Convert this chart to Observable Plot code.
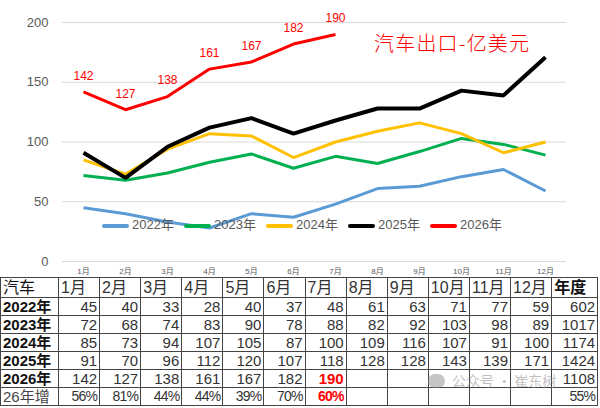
<!DOCTYPE html>
<html><head><meta charset="utf-8">
<script src="https://cdn.jsdelivr.net/npm/d3@7"></script>
<script src="https://cdn.jsdelivr.net/npm/@observablehq/plot@0.6"></script>
<style>
body{margin:0;background:#fff;}
#wrap{position:relative;width:600px;height:408px;overflow:hidden;font-family:"Liberation Sans","Noto Sans CJK SC",sans-serif;}
#chart{position:absolute;left:0;top:0;}
#title{position:absolute;left:374px;top:28px;font-size:20px;color:#ff0000;font-family:"Noto Sans CJK SC",sans-serif;font-weight:300;white-space:nowrap;letter-spacing:1.2px;}
#legend{position:absolute;left:0;top:216px;height:18px;}
.li{position:absolute;top:0;height:18px;font-size:13px;color:#595959;white-space:nowrap;font-family:"Liberation Sans","Noto Sans CJK SC",sans-serif;}
.li span.sw{position:absolute;top:8px;left:0;width:27px;height:4px;border-radius:2px;}
.li span.tx{position:absolute;left:30px;top:0;line-height:18px;}
table{position:absolute;left:0;top:277px;border-collapse:collapse;table-layout:fixed;font-size:15px;color:#333;}
td{border:1px solid #444;padding:0 2px;height:17px;line-height:17px;white-space:nowrap;overflow:hidden;text-align:right;font-family:"Liberation Sans","Noto Sans CJK SC",sans-serif;}
tr.hd td{height:19px;line-height:19px;text-align:left;font-size:16px;}
td.rl{text-align:left;font-weight:bold;color:#111;}
td.pct{font-size:14px;letter-spacing:-0.8px;}
td.red{color:#ff0000;font-weight:bold;}
#wm{position:absolute;left:428px;top:370px;font-size:14px;color:rgba(140,140,140,0.55);white-space:nowrap;font-family:"Noto Sans CJK SC",sans-serif;}
#wm i{display:inline-block;width:17px;height:14px;border-radius:8px;background:rgba(140,140,140,0.5);vertical-align:-2px;margin-right:7px;}
</style></head>
<body>
<div id="wrap">
  <div id="chart"></div>
  <div id="title"></div>
  <div id="legend"></div>
  <table id="tbl"></table>
  <div id="wm"><i></i>公众号 · 崔东树</div>
</div>
<script>
const months = ["1月","2月","3月","4月","5月","6月","7月","8月","9月","10月","11月","12月"];
const years = ["2022年","2023年","2024年","2025年","2026年"];
const v2022 = [45,40,33,28,40,37,48,61,63,71,77,59];
const v2023 = [72,68,74,83,90,78,88,82,92,103,98,89];
const v2024 = [85,73,94,107,105,87,100,109,116,107,91,100];
const v2025 = [91,70,96,112,120,107,118,128,128,143,139,171];
const v2026 = [142,127,138,161,167,182,190];
const annual = [602,1017,1174,1424,1108];
const growth26 = ["56%","81%","44%","44%","39%","70%","60%"];
const growthAnnual = "55%";
const colors = ["#5B9BD5","#00B050","#FFC000","#000000","#FF0000"];
const widths = [3,3,3,4,3];
const titleText = "汽车出口-亿美元";
const cornerLabel = "汽车";
const annualLabel = "年度";
const growthLabel = "26年增";

const series = [v2022,v2023,v2024,v2025,v2026];
const rows = series.map((vals,i)=>vals.map((v,j)=>({year:years[i],month:months[j],value:v})));

const plot = Plot.plot({
  width:600, height:277,
  marginLeft:62, marginRight:34, marginTop:22, marginBottom:16,
  style:{fontFamily:"Liberation Sans, Noto Sans CJK SC, sans-serif", background:"transparent"},
  x:{type:"point", domain:months, padding:0.5, label:null},
  y:{domain:[0,200], label:null},
  marks:[
    Plot.ruleY([0,50,100,150,200],{stroke:"#d9d9d9",strokeWidth:1}),
    Plot.axisY({ticks:[0,50,100,150,200], tickSize:0, tickPadding:14, fontSize:13, fill:"#595959", label:null}),
    Plot.axisX({tickSize:0, tickPadding:7, fontSize:8, fill:"#595959", label:null}),
    ...rows.map((r,i)=>Plot.line(r,{x:"month",y:"value",stroke:colors[i],strokeWidth:widths[i],strokeLinejoin:"miter",strokeLinecap:"butt"})),
    Plot.text(rows[4],{x:"month",y:"value",text:d=>String(d.value),dy:-16,fill:"#ff0000",fontSize:12})
  ]
});
document.getElementById("chart").appendChild(plot);
document.getElementById("title").textContent = titleText;

const leg = document.getElementById("legend");
years.forEach((y,i)=>{
  const d = document.createElement("div");
  d.className="li";
  d.style.left = (102 + i*82) + "px";
  d.innerHTML = `<span class="sw" style="background:${colors[i]}"></span><span class="tx">${y}</span>`;
  leg.appendChild(d);
});

const tbl = document.getElementById("tbl");
const cg = document.createElement("colgroup");
cg.innerHTML = `<col style="width:58px">` + months.map(()=>`<col style="width:41.1px">`).join("") + `<col style="width:46px">`;
tbl.appendChild(cg);
let html = `<tr class="hd"><td style="font-weight:normal;color:#111">${cornerLabel}</td>` + months.map(m=>`<td>${m}</td>`).join("") + `<td style="font-weight:bold;color:#111">${annualLabel}</td></tr>`;
series.forEach((vals,i)=>{
  html += `<tr><td class="rl">${years[i]}</td>`;
  months.forEach((m,j)=>{
    const v = vals[j];
    const isRed = (i===4 && j===vals.length-1);
    html += `<td class="${isRed?'red':''}">${v===undefined?'':v}</td>`;
  });
  html += `<td>${annual[i]}</td></tr>`;
});
html += `<tr><td style="text-align:left;color:#444">${growthLabel}</td>`;
months.forEach((m,j)=>{
  const g = growth26[j];
  const isRed = j===growth26.length-1;
  html += `<td class="pct ${isRed?'red':''}">${g===undefined?'':g}</td>`;
});
html += `<td class="pct">${growthAnnual}</td></tr>`;
tbl.innerHTML += html;
</script>
</body></html>
